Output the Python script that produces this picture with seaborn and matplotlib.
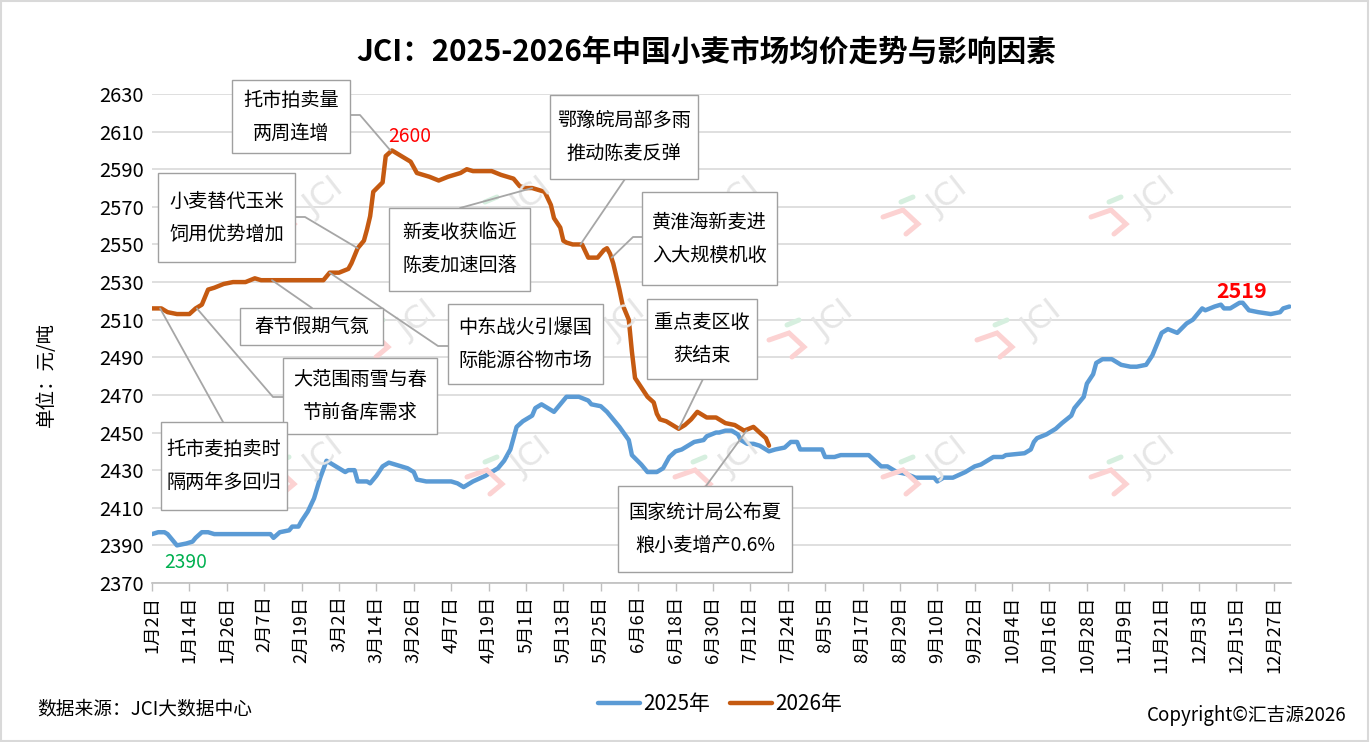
import matplotlib
matplotlib.use("Agg")
import matplotlib.pyplot as plt
import numpy as np
import pandas as pd
import seaborn as sns
from matplotlib import patches
from matplotlib.lines import Line2D

W, H = 1371, 742

# x axis: day offset from 1月2日, one label every 12 days
TICK_LABELS = [
    "1月2日", "1月14日", "1月26日", "2月7日", "2月19日", "3月2日", "3月14日",
    "3月26日", "4月7日", "4月19日", "5月1日", "5月13日", "5月25日", "6月6日",
    "6月18日", "6月30日", "7月12日", "7月24日", "8月5日", "8月17日", "8月29日",
    "9月10日", "9月22日", "10月4日", "10月16日", "10月28日", "11月9日",
    "11月21日", "12月3日", "12月15日", "12月27日",
]

DAYS_2025 = [
    0, 2, 4, 5, 7, 8, 11, 13, 14, 16, 18, 20, 25, 30, 35, 38, 39, 41, 44, 45,
    47, 48, 50, 52, 54, 56, 58, 60, 62, 63, 65, 66, 69, 70, 72, 74, 76, 78, 80,
    82, 84, 85, 88, 92, 96, 98, 100, 103, 107, 111, 113, 115, 116, 117, 119,
    122, 123, 125, 127, 129, 131, 133, 137, 140, 141, 144, 146, 148, 150, 153,
    154, 157, 159, 162, 164, 166, 168, 170, 172, 174, 177, 178, 181, 182, 184,
    186, 188, 189, 191, 193, 195, 198, 200, 203, 205, 207, 208, 215, 216, 219,
    221, 230, 232, 234, 236, 239, 242, 245, 251, 252, 254, 257, 261, 264, 266,
    268, 270, 273, 274, 280, 282, 283, 284, 287, 289, 290, 292, 295, 296, 299,
    300, 302, 303, 305, 308, 311, 314, 316, 319, 321, 322, 324, 326, 329, 332,
    334, 337, 338, 341, 343, 344, 346, 349, 350, 352, 355, 359, 362, 363, 365,
]
PRICE_2025 = [
    2396, 2397, 2397, 2396, 2392, 2390, 2391, 2392, 2394, 2397, 2397, 2396,
    2396, 2396, 2396, 2396, 2394, 2397, 2398, 2400, 2400, 2403, 2408, 2415,
    2426, 2435, 2433, 2431, 2429, 2430, 2430, 2424, 2424, 2423, 2427, 2432,
    2434, 2433, 2432, 2431, 2429, 2425, 2424, 2424, 2424, 2423, 2421, 2424,
    2427, 2431, 2435, 2441, 2447, 2453, 2456, 2459, 2463, 2465, 2463, 2461,
    2465, 2469, 2469, 2467, 2465, 2464, 2461, 2457, 2453, 2446, 2438, 2433,
    2429, 2429, 2431, 2437, 2440, 2441, 2443, 2445, 2446, 2448, 2450, 2450,
    2451, 2451, 2449, 2446, 2444, 2444, 2443, 2440, 2441, 2442, 2445, 2445,
    2441, 2441, 2437, 2437, 2438, 2438, 2435, 2432, 2432, 2429, 2428, 2426,
    2426, 2424, 2426, 2426, 2429, 2432, 2433, 2435, 2437, 2437, 2438, 2439,
    2441, 2445, 2447, 2449, 2451, 2452, 2455, 2459, 2463, 2469, 2476, 2481,
    2487, 2489, 2489, 2486, 2485, 2485, 2486, 2491, 2495, 2503, 2505, 2503,
    2508, 2510, 2516, 2515, 2517, 2518, 2516, 2516, 2519, 2519, 2515, 2514,
    2513, 2514, 2516, 2517,
]

DAYS_2026 = [
    0, 3, 5, 8, 12, 14, 16, 18, 20, 23, 26, 30, 33, 35, 40, 45, 50, 55, 57,
    60, 63, 64, 66, 68, 69, 70, 71, 74, 75, 77, 78, 80, 83, 85, 87, 89, 92, 95,
    97, 99, 101, 103, 106, 109, 112, 116, 118, 120, 122, 124, 126, 128, 129,
    131, 132, 133, 135, 138, 140, 143, 145, 146, 147, 148, 150, 151, 153, 154,
    155, 157, 159, 161, 162, 163, 165, 167, 169, 171, 173, 175, 177, 178, 181,
    184, 187, 190, 193, 195, 197, 198,
]
PRICE_2026 = [
    2516, 2516, 2514, 2513, 2513, 2516, 2518, 2526, 2527, 2529, 2530, 2530,
    2532, 2531, 2531, 2531, 2531, 2531, 2535, 2535, 2537, 2540, 2548, 2552,
    2558, 2565, 2578, 2583, 2597, 2600, 2599, 2597, 2594, 2588, 2587, 2586,
    2584, 2586, 2587, 2588, 2590, 2589, 2589, 2589, 2587, 2585, 2581, 2580,
    2580, 2579, 2578, 2571, 2564, 2559, 2552, 2551, 2550, 2550, 2543, 2543,
    2547, 2548, 2545, 2540, 2526, 2518, 2510, 2493, 2479, 2474, 2469, 2466,
    2460, 2457, 2456, 2454, 2452, 2454, 2457, 2461, 2459, 2458, 2458, 2455,
    2454, 2451, 2453, 2450, 2447, 2443,
]

BLUE = "#5B9BD5"
ORANGE = "#C55A11"
GRID = "#d9d9d9"
LEADER = "#a6a6a6"

# text, box (ref px x0, y0, x1, y1), leader points in ref px, target (day, price)
NOTES = [
    ("托市拍卖量\n两周连增", (232, 80, 350, 153), [(350, 115), (360, 115)], (76.5, 2600)),
    ("小麦替代玉米\n饲用优势增加", (158, 173, 295, 262), [(295, 217), (305, 217)], (66, 2548)),
    ("新麦收获临近\n陈麦加速回落", (389, 208, 530, 291), [(460, 208)], (122, 2580)),
    ("春节假期气氛", (240, 308, 383, 345), [(312, 308)], (38.5, 2531)),
    ("中东战火引爆国\n际能源谷物市场", (448, 304, 603, 384), [(448, 346), (438, 346)], (57, 2535)),
    ("大范围雨雪与春\n节前备库需求", (283, 358, 437, 434), [(283, 397), (273, 397)], (14.4, 2516)),
    ("托市麦拍卖时\n隔两年多回归", (161, 422, 287, 510), [(223, 422)], (2.6, 2516)),
    ("鄂豫皖局部多雨\n推动陈麦反弹", (550, 95, 698, 179), [(625, 179)], (137.5, 2550)),
    ("黄淮海新麦进\n入大规模机收", (642, 192, 777, 285), [(642, 237), (633, 237)], (147.5, 2543)),
    ("重点麦区收\n获结束", (647, 299, 757, 379), [(703, 379)], (169, 2452)),
    ("国家统计局公布夏\n粮小麦增产0.6%", (618, 486, 792, 572), [(706, 486)], (190.8, 2451)),
]

WATERMARKS = [
    (303, 205), (511, 205), (719, 205), (927, 205), (1135, 205),
    (397, 328), (605, 328), (813, 328), (1021, 328),
    (303, 465), (511, 465), (719, 465), (927, 465), (1135, 465),
]


def fpx(x, y):
    """reference pixel -> figure fraction"""
    return x / W, 1 - y / H


sns.set_theme(style="white")
plt.rcParams["font.family"] = ["Noto Sans CJK SC", "DejaVu Sans"]
plt.rcParams["text.color"] = "black"
plt.rcParams["xtick.labelcolor"] = "black"
plt.rcParams["ytick.labelcolor"] = "black"

fig = plt.figure(figsize=(W / 100, H / 100), dpi=100)
fig.patch.set_facecolor("white")
x0, y0 = fpx(152, 583)
x1, y1 = fpx(1291, 94)
ax = fig.add_axes([x0, y0, x1 - x0, y1 - y0])

# watermarks
for cx, cy in WATERMARKS:
    def p(dx, dy):
        return fpx(cx + dx, cy + dy)
    chev = [p(-44, 12), p(-24, 5), p(-9, 19), p(-21, 29)]
    fig.add_artist(Line2D([c[0] for c in chev], [c[1] for c in chev],
                          color="#fcd2d2", lw=3.6, solid_joinstyle="miter",
                          transform=fig.transFigure, zorder=0.5))
    g = [p(-26, -3), p(-14, -8)]
    fig.add_artist(Line2D([c[0] for c in g], [c[1] for c in g], color="#d6efdf",
                          lw=3.6, transform=fig.transFigure, zorder=0.5))
    tx, ty = p(21, -8)
    fig.text(tx, ty, "JCI", rotation=38, fontsize=23, color="#e6e6e6",
             ha="center", va="center", family="DejaVu Sans", zorder=0.5)

ax.set_facecolor("none")
df = pd.concat([
    pd.DataFrame({"day": DAYS_2025, "price": PRICE_2025, "year": "2025年"}),
    pd.DataFrame({"day": DAYS_2026, "price": PRICE_2026, "year": "2026年"}),
])
sns.lineplot(data=df, x="day", y="price", hue="year",
             palette={"2025年": BLUE, "2026年": ORANGE},
             linewidth=3.2, errorbar=None, ax=ax, zorder=3)
for ln in ax.get_lines():
    ln.set_solid_capstyle("round")
    ln.set_solid_joinstyle("round")

ax.set_xlim(0, 365.5)
ax.set_ylim(2370, 2630)
ax.set_yticks(np.arange(2370, 2631, 20))
ax.set_xticks(np.arange(0, 12 * len(TICK_LABELS), 12))
ax.set_xticklabels(TICK_LABELS, rotation=90, fontsize=13.2)
ax.tick_params(axis="y", labelsize=14.5, length=0, pad=6, labelcolor="black")
ax.tick_params(axis="x", length=6, width=1, color="#bfbfbf", direction="out",
               bottom=True, pad=3, labelcolor="black")
ax.yaxis.grid(True, color=GRID, lw=1.2)
ax.xaxis.grid(False)
for s in ["top", "right", "left"]:
    ax.spines[s].set_visible(False)
ax.spines["bottom"].set_color("#bfbfbf")
ax.spines["bottom"].set_linewidth(1.2)
ax.set_xlabel("")
ax.set_ylabel("")

handles, labels = ax.get_legend_handles_labels()
ax.get_legend().remove()
fig.legend(handles, labels, loc="center", bbox_to_anchor=fpx(720, 704),
           ncol=2, frameon=False, fontsize=15, handlelength=2.0,
           handletextpad=0.15, columnspacing=1.0, labelcolor="black")

# annotation boxes and leaders
for text, (bx0, by0, bx1, by1), pts, (td, tv) in NOTES:
    fx0, fy1 = fpx(bx0, by0)
    fx1, fy0 = fpx(bx1, by1)
    fig.add_artist(patches.Rectangle((fx0, fy0), fx1 - fx0, fy1 - fy0,
                                     transform=fig.transFigure, facecolor="white",
                                     edgecolor="#a0a0a0", lw=1.0, zorder=6))
    fig.text((fx0 + fx1) / 2, (fy0 + fy1) / 2, text, ha="center", va="center",
             fontsize=13.8, linespacing=1.75, zorder=7)
    disp = ax.transData.transform((td, tv))
    tgt = fig.transFigure.inverted().transform(disp)
    path = [fpx(*q) for q in pts] + [tuple(tgt)]
    fig.add_artist(Line2D([q[0] for q in path], [q[1] for q in path],
                          color=LEADER, lw=1.3, transform=fig.transFigure, zorder=5))

fig.text(*fpx(410, 137), "2600", color="#ff0000", fontsize=13.8,
         ha="center", va="center")
fig.text(*fpx(186, 563), "2390", color="#00b050", fontsize=13.8,
         ha="center", va="center")
fig.text(*fpx(1242, 292), "2519", color="#ff0000", fontsize=15.5,
         fontweight="bold", ha="center", va="center")

fig.text(*fpx(706, 52), "JCI：2025-2026年中国小麦市场均价走势与影响因素",
         fontsize=21.3, fontweight="bold", ha="center", va="center")
fig.text(*fpx(46, 374), "单位：元/吨", rotation=90, fontsize=14,
         ha="center", va="center")
fig.text(*fpx(37, 709), "数据来源：JCI大数据中心", fontsize=13.5,
         ha="left", va="center")
fig.text(*fpx(1346, 716), "Copyright©汇吉源2026", fontsize=13.5,
         ha="right", va="center")

fig.add_artist(patches.Rectangle((0.001, 0.002), 0.997, 0.996,
                                 transform=fig.transFigure, fill=False,
                                 edgecolor="#d9d9d9", lw=1.5, zorder=10))

fig.savefig("out.png", dpi=100)
